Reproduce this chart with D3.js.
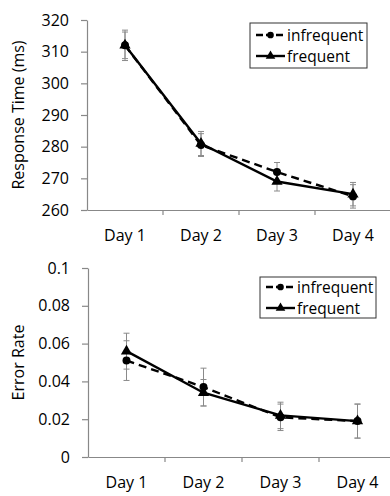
<!DOCTYPE html>
<html>
<head>
<meta charset="utf-8">
<script src="https://cdn.jsdelivr.net/npm/d3@7"></script>
<style>
  body { margin: 0; background: #fff; }
  svg text { font-family: "Open Sans", sans-serif; fill: #000; }
</style>
</head>
<body>
<div id="chart"></div>
<script>
const days = ['Day 1', 'Day 2', 'Day 3', 'Day 4'];
const seriesNames = ['infrequent', 'frequent'];

// response time (ms)
const rtInfrequent = [312, 280.5, 272, 264.3];
const rtFrequent = [312, 281, 269, 265];
const rtInfrequentErr = [4.8, 3.6, 3, 3.7];
const rtFrequentErr = [4.2, 3.8, 3, 3.7];
const rtTicks = [260, 270, 280, 290, 300, 310, 320];

// error rate
const erInfrequent = [0.051, 0.037, 0.021, 0.019];
const erFrequent = [0.056, 0.034, 0.022, 0.019];
const erInfrequentErr = [0.0105, 0.010, 0.007, 0.009];
const erFrequentErr = [0.0095, 0.007, 0.007, 0.009];
const erTicks = [0, 0.02, 0.04, 0.06, 0.08, 0.1];

const W = 390, H = 496;
const svg = d3.select('#chart').append('svg')
  .attr('width', W).attr('height', H);

function panel(cfg) {
  const g = svg.append('g');
  const x = d3.scaleBand().domain(days).range([cfg.x0, cfg.x1]);
  const y = d3.scaleLinear().domain(cfg.domain).range([cfg.yBottom, cfg.yTop]);

  // y axis
  const yAxis = g.append('g')
    .attr('transform', `translate(${cfg.x0},0)`)
    .call(d3.axisLeft(y).tickValues(cfg.ticks).tickSize(6).tickSizeOuter(0).tickPadding(12)
      .tickFormat(cfg.fmt));
  yAxis.select('.domain').attr('stroke', '#888').attr('stroke-width', 1.2);
  yAxis.selectAll('.tick line').attr('stroke', '#888').attr('stroke-width', 1.2);
  yAxis.selectAll('text').style('font-size', '16px');

  // x axis: labels at centres, ticks at boundaries
  const xAxis = g.append('g')
    .attr('transform', `translate(0,${cfg.yBottom})`)
    .call(d3.axisBottom(x).tickSize(0).tickSizeOuter(0).tickPadding(20));
  xAxis.select('.domain').attr('stroke', '#888').attr('stroke-width', 1.2);
  xAxis.selectAll('text').style('font-size', '16px');
  g.selectAll('.bound')
    .data(days.slice(1))
    .join('line')
    .attr('x1', d => x(d)).attr('x2', d => x(d))
    .attr('y1', cfg.yBottom).attr('y2', cfg.yBottom + 5)
    .attr('stroke', '#888').attr('stroke-width', 1.2);

  // y title
  g.append('text')
    .attr('transform', `translate(${cfg.titleX},${(cfg.yTop + cfg.yBottom) / 2}) rotate(-90)`)
    .attr('text-anchor', 'middle')
    .style('font-size', '16px')
    .text(cfg.title);

  const cx = d => x(d) + x.bandwidth() / 2;
  const series = [
    { vals: cfg.infrequent, err: cfg.infrequentErr, dash: '8,5', shape: d3.symbolCircle, size: 50 },
    { vals: cfg.frequent, err: cfg.frequentErr, dash: null, shape: d3.symbolTriangle, size: 55 }
  ];

  // error bars
  series.forEach(s => {
    days.forEach((d, i) => {
      const lo = y(s.vals[i] - s.err[i]), hi = y(s.vals[i] + s.err[i]);
      g.append('line').attr('x1', cx(d)).attr('x2', cx(d)).attr('y1', lo).attr('y2', hi)
        .attr('stroke', '#8a8a8a').attr('stroke-width', 1);
      [lo, hi].forEach(v => g.append('line')
        .attr('x1', cx(d) - 3).attr('x2', cx(d) + 3).attr('y1', v).attr('y2', v)
        .attr('stroke', '#8a8a8a').attr('stroke-width', 1));
    });
  });

  const line = d3.line().x((v, i) => cx(days[i])).y(v => y(v));
  series.forEach(s => {
    g.append('path').datum(s.vals)
      .attr('d', line)
      .attr('fill', 'none').attr('stroke', '#000').attr('stroke-width', 2.4)
      .attr('stroke-dasharray', s.dash);
    g.selectAll(null).data(s.vals).join('path')
      .attr('transform', (v, i) => `translate(${cx(days[i])},${y(v)})`)
      .attr('d', d3.symbol().type(s.shape).size(s.size))
      .attr('fill', '#000');
  });

  // legend
  const lg = g.append('g').attr('transform', `translate(${cfg.legX},${cfg.legY})`);
  lg.append('rect').attr('width', cfg.legW).attr('height', cfg.legH)
    .attr('fill', '#fff').attr('stroke', '#333').attr('stroke-width', 1);
  series.forEach((s, i) => {
    const ry = cfg.legH / 2 + (i - 0.5) * 21;
    lg.append('line').attr('x1', 6).attr('x2', 35).attr('y1', ry).attr('y2', ry)
      .attr('stroke', '#000').attr('stroke-width', 2.4).attr('stroke-dasharray', s.dash ? '7,3' : null);
    lg.append('path').attr('transform', `translate(20.5,${ry})`)
      .attr('d', d3.symbol().type(s.shape).size(s.size - 15)).attr('fill', '#000');
    lg.append('text').attr('x', 37).attr('y', ry + 5.5).style('font-size', '15.5px')
      .text(seriesNames[i]);
  });
}

panel({
  x0: 87, x1: 391, yTop: 20, yBottom: 210, domain: [260, 320], ticks: rtTicks,
  fmt: d3.format('d'), title: 'Response Time (ms)', titleX: 24,
  infrequent: rtInfrequent, frequent: rtFrequent,
  infrequentErr: rtInfrequentErr, frequentErr: rtFrequentErr,
  legX: 250, legY: 23, legW: 117, legH: 45
});

panel({
  x0: 88, x1: 396, yTop: 268, yBottom: 457, domain: [0, 0.1], ticks: erTicks,
  fmt: d => d === 0 ? '0' : String(+d.toFixed(2)), title: 'Error Rate', titleX: 24,
  infrequent: erInfrequent, frequent: erFrequent,
  infrequentErr: erInfrequentErr, frequentErr: erFrequentErr,
  legX: 260, legY: 277, legW: 116, legH: 41
});
</script>
</body>
</html>
